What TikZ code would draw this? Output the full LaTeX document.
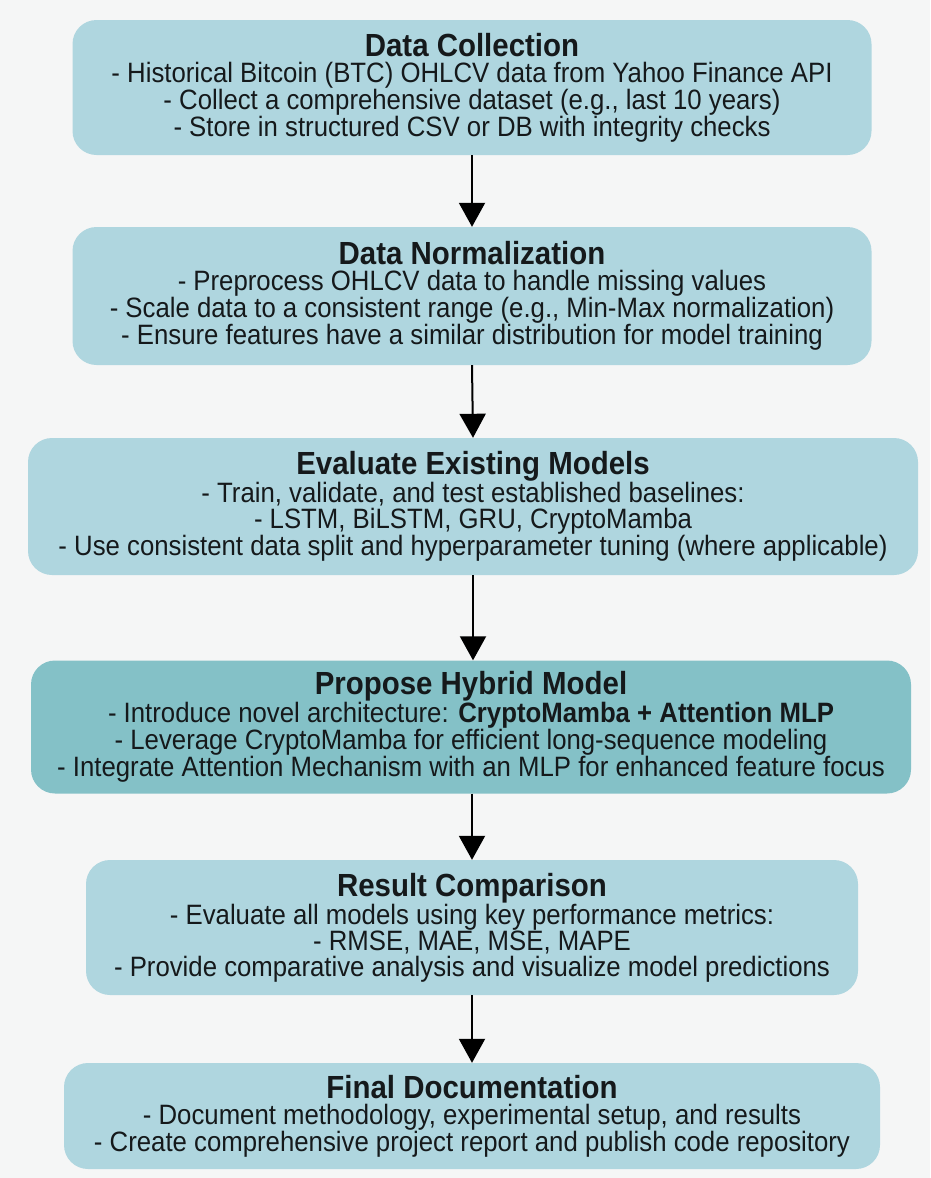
\documentclass[tikz,border=0pt]{standalone}
\usepackage{fontspec}
\setmainfont{Liberation Sans}[FakeStretch=0.92]
\usetikzlibrary{arrows.meta}

\definecolor{pagebg}{HTML}{F5F6F6}
\definecolor{stagefill}{HTML}{AFD6DF}
\definecolor{keyfill}{HTML}{84C1C7}
\definecolor{ink}{HTML}{15191B}

\tikzset{
  stage/.style={rounded corners=24pt, fill=stagefill, align=center, text=ink,
    font=\fontsize{28}{26}\selectfont, inner sep=0pt, minimum width=799pt},
  keystage/.style={stage, fill=keyfill},
  flow/.style={-{Triangle[length=24pt,width=26pt]}, line width=2pt, draw=black}
}
\newcommand{\stagetitle}[1]{{\fontsize{32}{26}\selectfont\bfseries #1}}

\begin{document}
\begin{tikzpicture}[x=1pt,y=-1pt]
\fill[pagebg] (0,0) rectangle (930,1178);
\useasboundingbox (0,0) rectangle (930,1178);

\node[stage, minimum height=135pt] (collect) at (472,87.5)
  {\stagetitle{Data Collection}\\
   - Historical Bitcoin (BTC) OHLCV data from Yahoo Finance API\\
   - Collect a comprehensive dataset (e.g., last 10 years)\\
   - Store in structured CSV or DB with integrity checks};

\node[stage, minimum height=138pt] (norm) at (472,296)
  {\stagetitle{Data Normalization}\\
   - Preprocess OHLCV data to handle missing values\\
   - Scale data to a consistent range (e.g., Min-Max normalization)\\
   - Ensure features have a similar distribution for model training};

\node[stage, minimum width=890pt, minimum height=137pt] (evaluate) at (473,506.5)
  {\stagetitle{Evaluate Existing Models}\\
   - Train, validate, and test established baselines:\\
   - LSTM, BiLSTM, GRU, CryptoMamba\\
   - Use consistent data split and hyperparameter tuning (where applicable)};

\node[keystage, minimum width=880pt, minimum height=133pt] (hybrid) at (471,727)
  {\stagetitle{Propose Hybrid Model}\\
   - Introduce novel architecture: \textbf{CryptoMamba + Attention MLP}\\
   - Leverage CryptoMamba for efficient long-sequence modeling\\
   - Integrate Attention Mechanism with an MLP for enhanced feature focus};

\node[stage, minimum width=772pt, minimum height=135pt] (compare) at (472,927.5)
  {\stagetitle{Result Comparison}\\
   - Evaluate all models using key performance metrics:\\
   - RMSE, MAE, MSE, MAPE\\
   - Provide comparative analysis and visualize model predictions};

\node[stage, minimum width=816pt, minimum height=106pt] (docs) at (472,1116)
  {\stagetitle{Final Documentation}\\
   - Document methodology, experimental setup, and results\\
   - Create comprehensive project report and publish code repository};

\draw[flow] (collect.south) -- (norm.north);
\draw[flow] (norm.south) -- (evaluate.north);
\draw[flow] (evaluate.south) -- (evaluate.south |- hybrid.north);
\draw[flow] (hybrid.south -| compare.north) -- (compare.north);
\draw[flow] (compare.south) -- (docs.north);
\end{tikzpicture}
\end{document}
